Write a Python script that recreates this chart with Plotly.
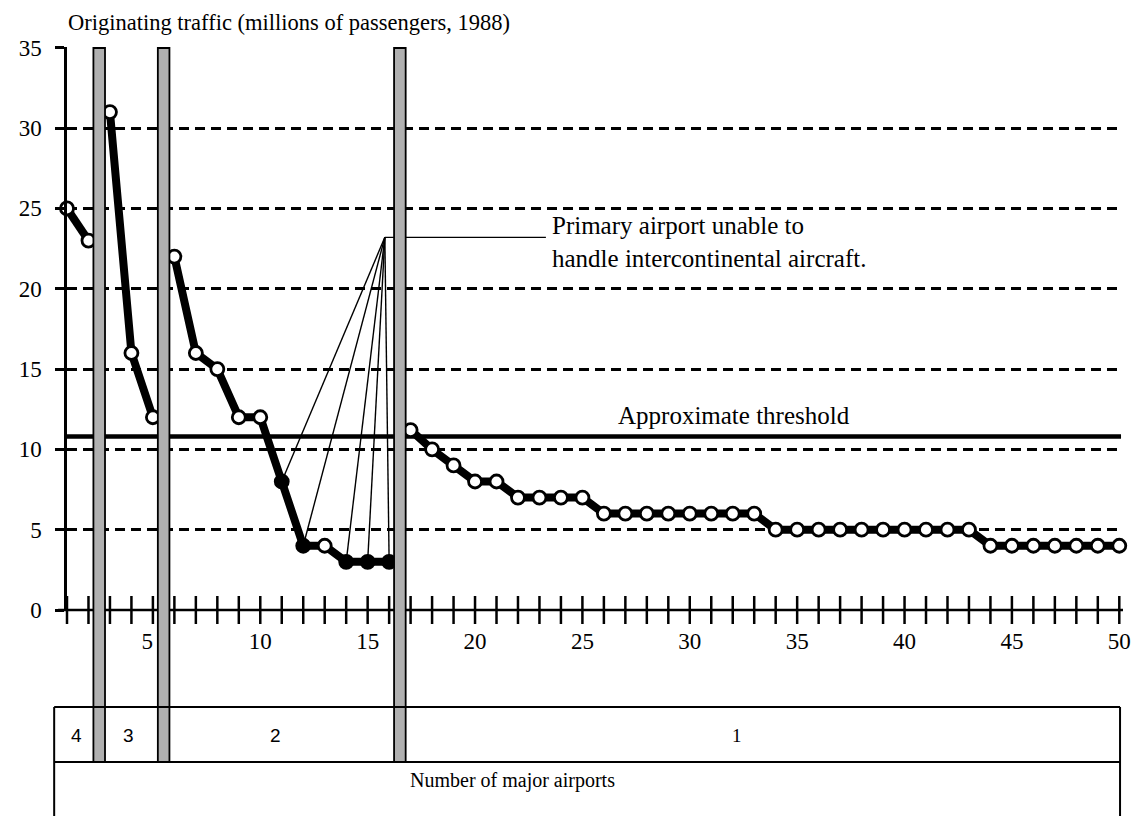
import plotly.graph_objects as go

# ---------------- data ----------------
airport_rank = list(range(1, 51))
traffic = [25, 23, 31, 16, 12, 22, 16, 15, 12, 12,
           8, 4, 4, 3, 3, 3, 11.2, 10, 9, 8,
           8, 7, 7, 7, 7, 6, 6, 6, 6, 6,
           6, 6, 6, 5, 5, 5, 5, 5, 5, 5,
           5, 5, 5, 4, 4, 4, 4, 4, 4, 4]
# number of major airports in each group (ranks), groups separated by shaded bars
group_labels = ["4", "3", "2", "1"]
group_ranges = [(1, 2), (3, 5), (6, 16), (17, 50)]
group_label_x = [1.45, 3.85, 10.7, 32.2]
separators = [2.5, 5.5, 16.5]
# airports unable to handle intercontinental aircraft
primary_unable = [11, 12, 14, 15, 16]
THRESHOLD = 10.8
apex = (15.8, 23.2)
apex_end_x = 23.3

x_tickvals = [5, 10, 15, 20, 25, 30, 35, 40, 45, 50]
x_ticktext = ["5\u00a0\u00a0", "10", "15", "20", "25", "30", "35", "40", "45", "50"]
y_tickvals = [0, 5, 10, 15, 20, 25, 30, 35]

SERIF = "Liberation Serif, Times New Roman, serif"
SANS = "Liberation Sans, Arial, sans-serif"

# ---------------- layout geometry ----------------
# page has an 8px body margin, so figure is sized/offset accordingly
OFF = 8
W, H = 1142 - OFF, 816 - OFF
ML, MR, MT, MB = 61 - OFF, 11, 47 - OFF, 206
plot_w = W - ML - MR
plot_h = H - MT - MB

def py(px):  # reference pixel y -> paper y
    return (H - MB - (px - OFF)) / plot_h

def pxp(px):  # reference pixel x -> paper x
    return (px - OFF - ML) / plot_w

fig = go.Figure()

# fan lines from annotation apex to the marked airports
for r in primary_unable:
    fig.add_trace(go.Scatter(x=[apex[0], r], y=[apex[1], traffic[r - 1]],
                             mode="lines", line=dict(color="black", width=1.4),
                             hoverinfo="skip", showlegend=False))
fig.add_trace(go.Scatter(x=[apex[0], apex_end_x], y=[apex[1], apex[1]],
                         mode="lines", line=dict(color="black", width=1.4),
                         hoverinfo="skip", showlegend=False))

# data segments
for (a, b) in group_ranges:
    xs = airport_rank[a - 1:b]
    ys = traffic[a - 1:b]
    fills = ["black" if r in primary_unable else "white" for r in xs]
    fig.add_trace(go.Scatter(
        x=xs, y=ys, mode="lines+markers",
        line=dict(color="black", width=8),
        marker=dict(size=13, color=fills, line=dict(color="black", width=2.8)),
        showlegend=False, cliponaxis=False))

# crossing tick marks on x axis
fig.add_trace(go.Scatter(
    x=airport_rank, y=[0] * len(airport_rank), mode="markers",
    marker=dict(symbol="line-ns", size=20, line=dict(color="black", width=2.5)),
    hoverinfo="skip", showlegend=False, cliponaxis=False))

shapes = []
# threshold line
shapes.append(dict(type="line", xref="paper", yref="y", x0=0, x1=pxp(1129),
                   y0=THRESHOLD, y1=THRESHOLD, line=dict(color="black", width=4.5),
                   layer="between"))
# x axis line (extends a little left of y axis)
shapes.append(dict(type="line", xref="paper", yref="paper", x0=pxp(52), x1=pxp(1131),
                   y0=0, y1=0, line=dict(color="black", width=2.5), layer="above"))
# shaded separator bars
for s in separators:
    shapes.append(dict(type="rect", xref="x", yref="paper", x0=s - 0.27, x1=s + 0.27,
                       y0=py(762), y1=py(48), fillcolor="#b0b0b0",
                       line=dict(color="black", width=1.8), layer="above"))
# bottom box
bx0, bx1 = pxp(48), pxp(1128)
for yy in (707, 762):
    shapes.append(dict(type="line", xref="paper", yref="paper", x0=bx0, x1=bx1,
                       y0=py(yy), y1=py(yy), line=dict(color="black", width=2)))
for xx in (bx0, bx1):
    shapes.append(dict(type="line", xref="paper", yref="paper", x0=xx, x1=xx,
                       y0=py(707), y1=py(830), line=dict(color="black", width=2)))

annotations = []
annotations.append(dict(text="Originating traffic (millions of passengers, 1988)",
                        xref="paper", yref="paper", x=pxp(60), y=py(8),
                        xanchor="left", yanchor="top", showarrow=False,
                        font=dict(family=SERIF, size=22.5, color="black")))
annotations.append(dict(text="Approximate threshold", xref="x", yref="y",
                        x=32.07, y=THRESHOLD + 0.35, xanchor="center", yanchor="bottom",
                        showarrow=False, font=dict(family=SERIF, size=25, color="black")))
annotations.append(dict(text="Primary airport unable to<br>handle intercontinental aircraft.",
                        xref="x", yref="y", x=23.5, y=22.9, xanchor="left",
                        yanchor="middle", align="left", showarrow=False,
                        font=dict(family=SERIF, size=25, color="black")))
for lab, gx in zip(group_labels, group_label_x):
    annotations.append(dict(text=lab, xref="x", yref="paper", x=gx, y=py(735),
                            xanchor="center", yanchor="middle", showarrow=False,
                            font=dict(family=SANS if lab != "1" else SERIF, size=19,
                                      color="black")))
annotations.append(dict(text="Number of major airports", xref="paper", yref="paper",
                        x=pxp(512), y=py(780), xanchor="center", yanchor="middle",
                        showarrow=False, font=dict(family=SERIF, size=20, color="black")))

fig.update_layout(
    width=W, height=H,
    margin=dict(l=ML, r=MR, t=MT, b=MB),
    paper_bgcolor="white", plot_bgcolor="white",
    showlegend=False,
    shapes=shapes, annotations=annotations,
    xaxis=dict(range=[1, 1 + plot_w / 21.76], tickvals=x_tickvals,
               ticktext=x_ticktext, ticks="", showgrid=False,
               zeroline=False, showline=False,
               tickfont=dict(family=SERIF, size=23, color="black"),
               ticklabelstandoff=15),
    yaxis=dict(range=[0, 35.05], tickvals=y_tickvals,
               ticktext=[str(v) for v in y_tickvals],
               ticks="outside", ticklen=9, tickwidth=2.5, tickcolor="black",
               showline=True, linecolor="black", linewidth=2.5,
               showgrid=True, gridcolor="black", gridwidth=2.5, griddash="10px,6px",
               zeroline=False,
               tickfont=dict(family=SERIF, size=23, color="black"),
               ticklabelstandoff=9),
)

fig.write_html("out.html")
